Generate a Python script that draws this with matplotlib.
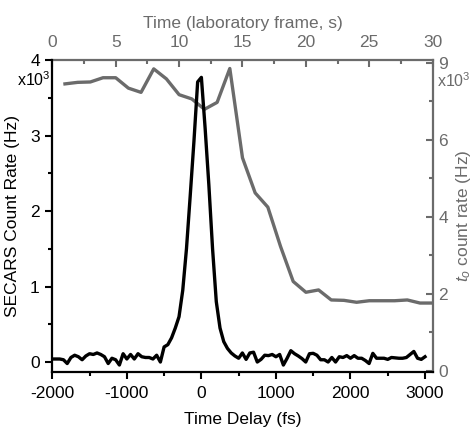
import numpy as np
import matplotlib.pyplot as plt
from matplotlib.ticker import MultipleLocator, FixedLocator

plt.rcParams['font.family'] = ['Liberation Sans', 'DejaVu Sans']
plt.rcParams['mathtext.fontset'] = 'custom'
plt.rcParams['mathtext.it'] = 'Liberation Sans:italic'
plt.rcParams['mathtext.rm'] = 'Liberation Sans'
plt.rcParams['axes.unicode_minus'] = False

GRAY = '#6b6b6b'

# SECARS signal vs time delay (fs), values in units of 10^3 Hz
delay = np.arange(-2000, 3001, 50)
secars = [
    0.04, 0.04, 0.04, 0.03, -0.02, 0.06, 0.09, 0.07, 0.03, 0.08,
    0.11, 0.10, 0.12, 0.10, 0.07, -0.02, 0.05, 0.03, -0.04, 0.11,
    0.04, 0.10, 0.04, 0.11, 0.07, 0.06, 0.06, 0.04, 0.09, 0.00,
    0.20, 0.23, 0.32, 0.45, 0.60, 0.95, 1.50, 2.20, 2.92, 3.71,
    3.77, 3.10, 2.35, 1.50, 0.80, 0.45, 0.27, 0.18, 0.12, 0.08,
    0.05, 0.12, 0.035, 0.12, 0.13, 0.00, 0.035, 0.09, 0.085, 0.10,
    0.07, 0.10, -0.04, 0.05, 0.15, 0.11, 0.08, 0.045, 0.00, 0.11,
    0.115, 0.09, 0.03, 0.03, 0.00, 0.06, 0.00, 0.07, 0.06, 0.085,
    0.05, 0.085, 0.05, 0.05, 0.02, -0.02, 0.115, 0.05, 0.05, 0.05,
    0.035, 0.06, 0.055, 0.05, 0.05, 0.06, 0.10, 0.14, 0.05, 0.035,
    0.07,
]

# t0 count rate vs laboratory time (s), values in units of 10^3 Hz
lab_time = list(range(1, 31))
t0_rate = [
    7.45, 7.49, 7.50, 7.61, 7.61, 7.34, 7.23, 7.84, 7.58, 7.17,
    7.06, 6.79, 6.97, 7.85, 5.53, 4.62, 4.25, 3.23, 2.32, 2.04,
    2.10, 1.84, 1.83, 1.78, 1.82, 1.82, 1.82, 1.84, 1.76, 1.76,
]

fig = plt.figure(figsize=(4.72, 4.29), dpi=100)
ax = fig.add_axes([0.1108, 0.1329, 0.8059, 0.7272])
ax.set_zorder(2)
ax.patch.set_visible(False)

# secondary axes for the gray trace (top x, right y)
ax2 = fig.add_axes(ax.get_position(), frameon=True)
ax2.set_zorder(1)

ax.plot(delay, secars, color='black', lw=2.4, zorder=3)
ax2.plot(lab_time, t0_rate, color=GRAY, lw=2.4)

ax.set_xlim(-2000, 3103)
ax.set_ylim(-0.132, 4)
ax2.set_xlim(0, 30)
ax2.set_ylim(-0.03, 8.07)

ax.xaxis.set_major_locator(MultipleLocator(1000))
ax.xaxis.set_minor_locator(MultipleLocator(500))
ax.yaxis.set_major_locator(FixedLocator([0, 1, 2, 3, 4]))
ax.yaxis.set_minor_locator(FixedLocator([0.5, 1.5, 2.5, 3.5]))

ax2.xaxis.tick_top()
ax2.xaxis.set_label_position('top')
ax2.yaxis.tick_right()
ax2.yaxis.set_label_position('right')
ax2.xaxis.set_major_locator(MultipleLocator(5))
ax2.xaxis.set_minor_locator(MultipleLocator(2.5))
ax2.set_yticks([0, 2, 4, 6, 8])
ax2.set_yticklabels(['0', '2', '4', '6', '9'])
ax2.yaxis.set_minor_locator(FixedLocator([1, 3, 5, 7]))

for s in ['top', 'right']:
    ax.spines[s].set_visible(False)
for s in ['left', 'bottom']:
    ax.spines[s].set_linewidth(1.6)
    ax.spines[s].set_color('black')
    ax2.spines[s].set_visible(False)
for s in ['top', 'right']:
    ax2.spines[s].set_linewidth(1.6)
    ax2.spines[s].set_color(GRAY)

ax.tick_params(which='major', direction='out', length=5, width=1.5,
               labelsize=12.5, colors='black')
ax.tick_params(which='minor', direction='out', length=3, width=1.5)
ax.tick_params(axis='x', pad=5)
ax.tick_params(axis='y', pad=4)
ax2.tick_params(which='major', direction='in', length=5, width=1.5,
                labelsize=12.5, colors=GRAY)
ax2.tick_params(which='minor', direction='in', length=3, width=1.5, colors=GRAY)
ax2.tick_params(axis='x', pad=7)
ax2.tick_params(axis='y', pad=4)

ax.set_xlabel('Time Delay (fs)', fontsize=12.5, labelpad=8)
ax.set_ylabel('SECARS Count Rate (Hz)', fontsize=12.5, labelpad=7)
ax2.set_xlabel('Time (laboratory frame, s)', fontsize=12.5, color=GRAY, labelpad=5)
ax2.set_ylabel(r'$t_o$ count rate (Hz)', fontsize=12.5, color=GRAY, labelpad=4)

fig.text(0.107, 0.815, r'x10$^3$', fontsize=11.5, ha='right', va='center')
fig.text(0.925, 0.812, r'x10$^3$', fontsize=11.5, ha='left', va='center', color=GRAY)

fig.savefig('out.png', dpi=100)
